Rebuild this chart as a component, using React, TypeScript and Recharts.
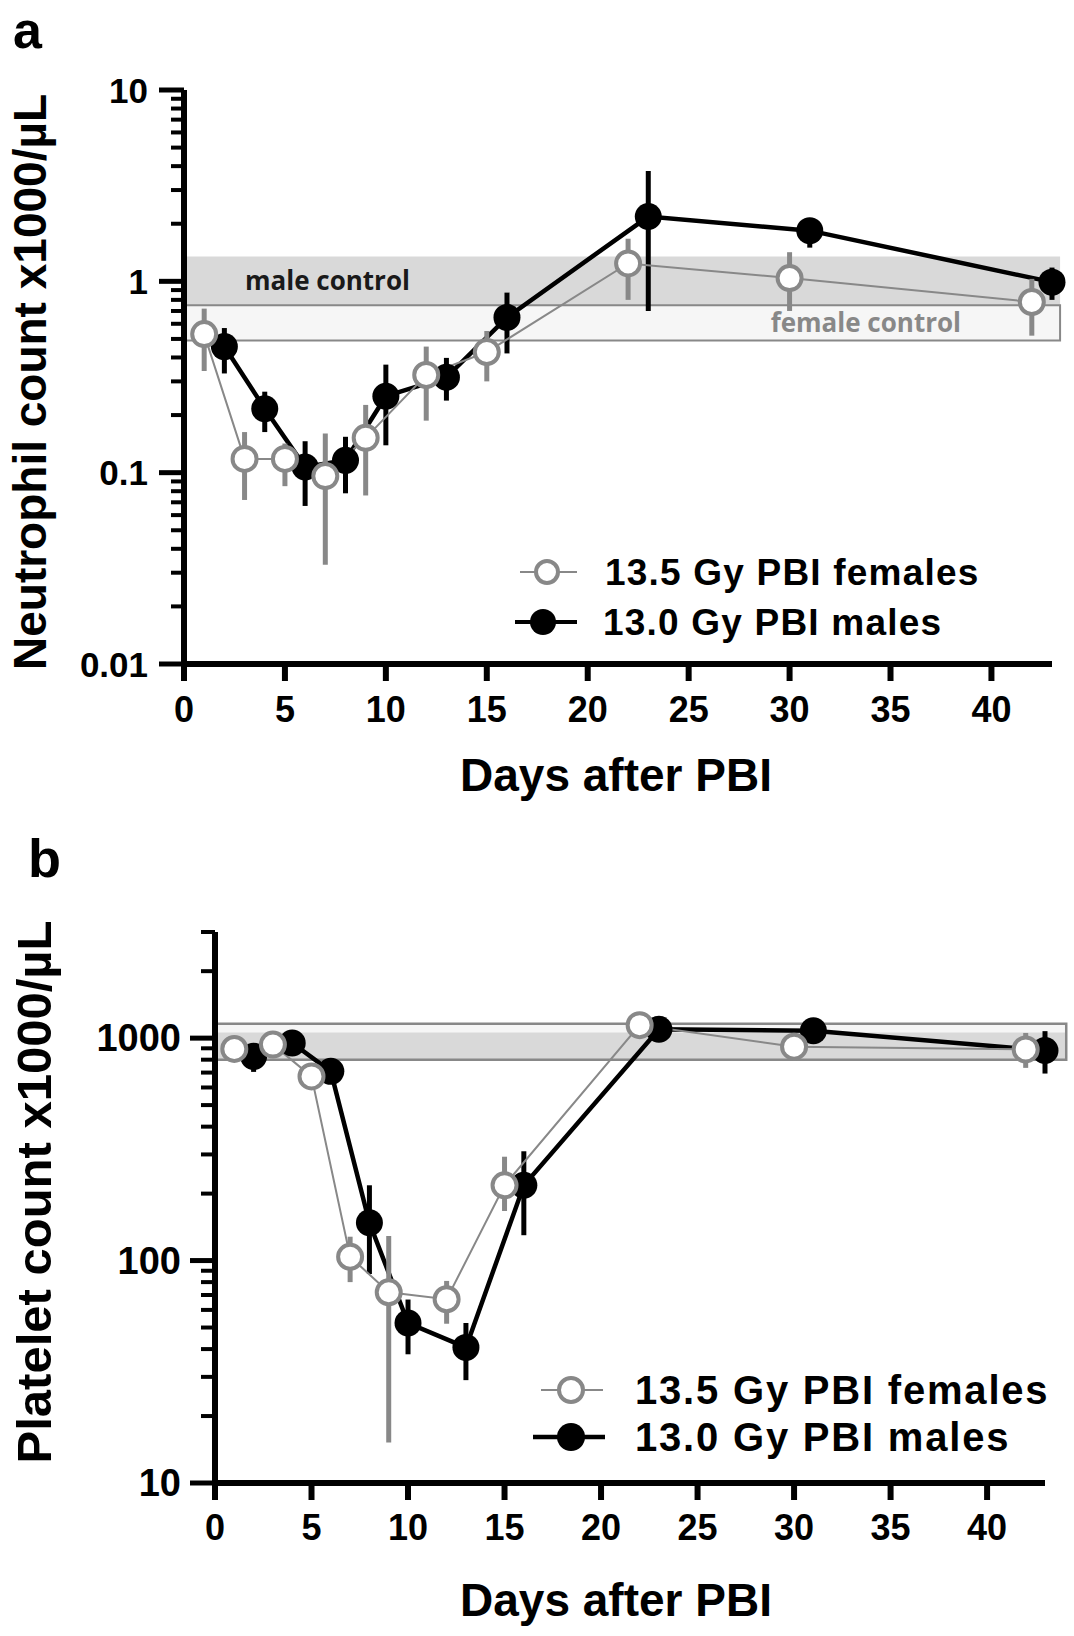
import React from 'react';
import { ComposedChart, Line, XAxis, YAxis, ErrorBar, ReferenceArea } from 'recharts';

const FONT = '"Liberation Sans", Arial, Helvetica, sans-serif';
const LABEL_FONT = '"Open Sans", "Liberation Sans", sans-serif';
const GRAY = '#888888';

// ---------- Panel a: neutrophils ----------
const femaleDaysA = [1, 3, 5, 7, 9, 12, 15, 22, 30, 42];
const femaleMeanA = [0.53, 0.118, 0.118, 0.096, 0.152, 0.324, 0.427, 1.24, 1.04, 0.78];
const femaleLowA = [0.34, 0.072, 0.085, 0.033, 0.076, 0.187, 0.3, 0.8, 0.7, 0.52];
const femaleHighA = [0.72, 0.163, 0.142, 0.16, 0.226, 0.456, 0.55, 1.67, 1.42, 1.03];

const maleDaysA = [2, 4, 6, 8, 10, 13, 16, 23, 31, 43];
const maleMeanA = [0.456, 0.216, 0.107, 0.116, 0.251, 0.315, 0.648, 2.18, 1.84, 0.99];
const maleLowA = [0.33, 0.163, 0.067, 0.078, 0.139, 0.238, 0.42, 0.7, 1.5, 0.8];
const maleHighA = [0.57, 0.265, 0.146, 0.154, 0.367, 0.398, 0.873, 3.77, 2.13, 1.18];

const maleControlA = [0.75, 1.35];
const femaleControlA = [0.49, 0.75];
const controlEndA = 43.4;

const xTicksA = [0, 5, 10, 15, 20, 25, 30, 35, 40];
const yMajorA = [0.01, 0.1, 1, 10];
const yMinorA = [
  0.02, 0.03, 0.04, 0.05, 0.06, 0.07, 0.08, 0.09,
  0.2, 0.3, 0.4, 0.5, 0.6, 0.7, 0.8, 0.9,
  2, 3, 4, 5, 6, 7, 8, 9,
];

// ---------- Panel b: platelets ----------
const femaleDaysB = [1, 3, 5, 7, 9, 12, 15, 22, 30, 42];
const femaleMeanB = [894, 935, 673, 104, 72, 67, 218, 1144, 915, 890];
const femaleLowB = [840, 880, 620, 80, 15.2, 52, 167, 1100, 870, 735];
const femaleHighB = [950, 990, 730, 128, 129, 81, 293, 1190, 965, 1055];

const maleDaysB = [2, 4, 6, 8, 10, 13, 16, 23, 31, 43];
const maleMeanB = [828, 951, 709, 148, 52.4, 40.7, 218, 1096, 1080, 880];
const maleLowB = [705, 900, 660, 87, 37.9, 29, 130, 1040, 1020, 693];
const maleHighB = [900, 1000, 760, 218, 66.8, 52.4, 310, 1150, 1140, 1075];

const outerControlB = [800, 1160];
const innerControlB = [800, 1060];
const controlEndB = 44.1;

const xTicksB = [0, 5, 10, 15, 20, 25, 30, 35, 40];
const yMajorB = [10, 100, 1000];
const yMinorB = [
  20, 30, 40, 50, 60, 70, 80, 90,
  200, 300, 400, 500, 600, 700, 800, 900,
  2000, 3000,
];

const femaleName = '13.5 Gy PBI females';
const maleName = '13.0 Gy PBI males';

const buildRows = (days: number[], mean: number[], lo: number[], hi: number[]) =>
  days.map((d, i) => ({ day: d, v: mean[i], err: [mean[i] - lo[i], hi[i] - mean[i]] }));

const makeYTick =
  (majors: number[], majorLen: number, minorLen: number, fontSize: number, labelGap: number) =>
  (props: any) => {
    const { x, y, payload } = props;
    const isMajor = majors.includes(payload.value);
    const len = isMajor ? majorLen : minorLen;
    return (
      <g>
        <line x1={x - len} x2={x} y1={y} y2={y} stroke="#000" strokeWidth={isMajor ? 5 : 4} />
        {isMajor && (
          <text
            x={x - labelGap}
            y={y}
            textAnchor="end"
            dominantBaseline="central"
            fontSize={fontSize}
            fontWeight="bold"
            fontFamily={FONT}
            fill="#000"
          >
            {String(payload.value)}
          </text>
        )}
      </g>
    );
  };

const xTickStyle = { fontSize: 36, fontWeight: 'bold', fill: '#000', fontFamily: FONT } as any;

function PanelA() {
  const fData = buildRows(femaleDaysA, femaleMeanA, femaleLowA, femaleHighA);
  const mData = buildRows(maleDaysA, maleMeanA, maleLowA, maleHighA);
  return (
    <ComposedChart width={1074} height={810} margin={{ top: 90, right: 22, bottom: 86, left: 0 }}>
      <XAxis
        dataKey="day"
        type="number"
        domain={[0, 43]}
        ticks={xTicksA}
        interval={0}
        axisLine={{ stroke: '#000', strokeWidth: 6 }}
        tickLine={{ stroke: '#000', strokeWidth: 6 }}
        tickSize={17}
        tickMargin={15}
        tick={xTickStyle}
        height={60}
      />
      <YAxis
        type="number"
        scale="log"
        domain={[0.01, 10]}
        ticks={[...yMajorA, ...yMinorA].sort((a, b) => a - b)}
        interval={0}
        width={184}
        axisLine={{ stroke: '#000', strokeWidth: 6 }}
        tickLine={false}
        tickSize={0}
        tickMargin={0}
        tick={makeYTick(yMajorA, 25, 13, 35, 36)}
        allowDataOverflow
      />
      <ReferenceArea
        x1={0}
        x2={controlEndA}
        y1={maleControlA[0]}
        y2={maleControlA[1]}
        fill="#d9d9d9"
        fillOpacity={1}
        stroke="none"
        ifOverflow="visible"
        label={{
          value: 'male control',
          position: 'insideLeft',
          offset: 61,
          fontSize: 26,
          fontWeight: 'bold',
          fill: '#1a1a1a',
          fontFamily: LABEL_FONT,
        } as any}
      />
      <ReferenceArea
        x1={0}
        x2={controlEndA}
        y1={femaleControlA[0]}
        y2={femaleControlA[1]}
        fill="#f6f6f6"
        fillOpacity={1}
        stroke={GRAY}
        strokeWidth={2}
        ifOverflow="visible"
        label={{
          value: 'female control',
          position: 'insideRight',
          offset: 99,
          fontSize: 26,
          fontWeight: 'bold',
          fill: GRAY,
          fontFamily: LABEL_FONT,
        } as any}
      />
      <Line
        data={mData}
        dataKey="v"
        name={maleName}
        type="linear"
        stroke="#000"
        strokeWidth={4.5}
        dot={{ r: 13.5, fill: '#000', stroke: '#000', strokeWidth: 0 }}
        activeDot={false}
        isAnimationActive={false}
      >
        <ErrorBar dataKey="err" width={0} stroke="#000" strokeWidth={5} direction="y" />
      </Line>
      <Line
        data={fData}
        dataKey="v"
        name={femaleName}
        type="linear"
        stroke={GRAY}
        strokeWidth={2}
        dot={{ r: 12, fill: '#fff', stroke: GRAY, strokeWidth: 4 }}
        activeDot={false}
        isAnimationActive={false}
      >
        <ErrorBar dataKey="err" width={0} stroke={GRAY} strokeWidth={5} direction="y" />
      </Line>
    </ComposedChart>
  );
}

function PanelB() {
  const fData = buildRows(femaleDaysB, femaleMeanB, femaleLowB, femaleHighB);
  const mData = buildRows(maleDaysB, maleMeanB, maleLowB, maleHighB);
  return (
    <ComposedChart width={1074} height={816} margin={{ top: 112, right: 29, bottom: 93, left: 0 }}>
      <XAxis
        dataKey="day"
        type="number"
        domain={[0, 43]}
        ticks={xTicksB}
        interval={0}
        axisLine={{ stroke: '#000', strokeWidth: 6 }}
        tickLine={{ stroke: '#000', strokeWidth: 6 }}
        tickSize={17}
        tickMargin={14}
        tick={xTickStyle}
        height={60}
      />
      <YAxis
        type="number"
        scale="log"
        domain={[10, 3000]}
        ticks={[...yMajorB, ...yMinorB].sort((a, b) => a - b)}
        interval={0}
        width={215}
        axisLine={{ stroke: '#000', strokeWidth: 6 }}
        tickLine={false}
        tickSize={0}
        tickMargin={0}
        tick={makeYTick(yMajorB, 25, 14, 38, 34)}
        allowDataOverflow
      />
      <ReferenceArea
        x1={0}
        x2={controlEndB}
        y1={outerControlB[0]}
        y2={outerControlB[1]}
        fill="#f6f6f6"
        fillOpacity={1}
        stroke="none"
        ifOverflow="visible"
      />
      <ReferenceArea
        x1={0}
        x2={controlEndB}
        y1={innerControlB[0]}
        y2={innerControlB[1]}
        fill="#d9d9d9"
        fillOpacity={1}
        stroke="none"
        ifOverflow="visible"
      />
      <ReferenceArea
        x1={0}
        x2={controlEndB}
        y1={outerControlB[0]}
        y2={outerControlB[1]}
        fill="none"
        fillOpacity={0}
        stroke={GRAY}
        strokeWidth={2.5}
        ifOverflow="visible"
      />
      <Line
        data={mData}
        dataKey="v"
        name={maleName}
        type="linear"
        stroke="#000"
        strokeWidth={4.5}
        dot={{ r: 13.5, fill: '#000', stroke: '#000', strokeWidth: 0 }}
        activeDot={false}
        isAnimationActive={false}
      >
        <ErrorBar dataKey="err" width={0} stroke="#000" strokeWidth={5} direction="y" />
      </Line>
      <Line
        data={fData}
        dataKey="v"
        name={femaleName}
        type="linear"
        stroke={GRAY}
        strokeWidth={2}
        dot={{ r: 12, fill: '#fff', stroke: GRAY, strokeWidth: 4 }}
        activeDot={false}
        isAnimationActive={false}
      >
        <ErrorBar dataKey="err" width={0} stroke={GRAY} strokeWidth={5} direction="y" />
      </Line>
    </ComposedChart>
  );
}

function Overlay() {
  const t = { fontFamily: FONT, fontWeight: 'bold', fill: '#000' } as any;
  return (
    <svg
      width={1074}
      height={1636}
      style={{ position: 'absolute', left: 0, top: 0, pointerEvents: 'none' }}
    >
      <text x={13} y={48} fontSize={52} {...t}>a</text>
      <text x={28} y={877} fontSize={54} {...t}>b</text>

      <text transform="translate(46,382) rotate(-90)" textAnchor="middle" fontSize={46} {...t}>
        Neutrophil count x1000/µL
      </text>
      <text transform="translate(51,1192) rotate(-90)" textAnchor="middle" fontSize={49} {...t}>
        Platelet count x1000/µL
      </text>
      <text x={616} y={791} textAnchor="middle" fontSize={46} {...t}>Days after PBI</text>
      <text x={616} y={1616} textAnchor="middle" fontSize={46} {...t}>Days after PBI</text>

      {/* legend a */}
      <line x1={520} x2={577} y1={572} y2={572} stroke={GRAY} strokeWidth={2} />
      <circle cx={547} cy={572} r={11} fill="#fff" stroke={GRAY} strokeWidth={4} />
      <text x={605} y={585} fontSize={37} letterSpacing={1.2} {...t}>{femaleName}</text>
      <line x1={515} x2={577} y1={622} y2={622} stroke="#000" strokeWidth={4} />
      <circle cx={543} cy={622} r={13} fill="#000" />
      <text x={603} y={635} fontSize={37} letterSpacing={1.2} {...t}>{maleName}</text>

      {/* legend b */}
      <line x1={541} x2={603} y1={1390} y2={1390} stroke={GRAY} strokeWidth={2} />
      <circle cx={571} cy={1390} r={12} fill="#fff" stroke={GRAY} strokeWidth={4} />
      <text x={635} y={1404} fontSize={40} letterSpacing={1.8} {...t}>{femaleName}</text>
      <line x1={533} x2={605} y1={1437} y2={1437} stroke="#000" strokeWidth={4.5} />
      <circle cx={571} cy={1437} r={14} fill="#000" />
      <text x={635} y={1451} fontSize={40} letterSpacing={1.8} {...t}>{maleName}</text>
    </svg>
  );
}

export default function App() {
  return (
    <div
      style={{
        position: 'absolute',
        left: 0,
        top: 0,
        width: 1074,
        height: 1636,
        background: '#fff',
        overflow: 'hidden',
      }}
    >
      <div style={{ position: 'absolute', left: 0, top: 0 }}>
        <PanelA />
      </div>
      <div style={{ position: 'absolute', left: 0, top: 820 }}>
        <PanelB />
      </div>
      <Overlay />
    </div>
  );
}
